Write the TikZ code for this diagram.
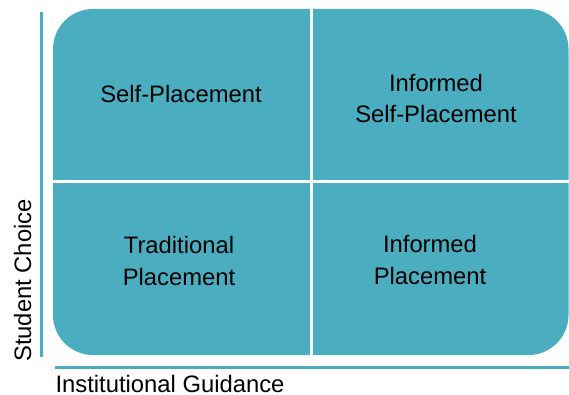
\documentclass[tikz,border=0pt]{standalone}
\usepackage{fontspec}
\setmainfont{Liberation Sans}
\usepackage{xcolor}
\usepackage{tikz}
\usetikzlibrary{calc,positioning}
\definecolor{teal}{HTML}{4BAEC0}
\definecolor{ink}{HTML}{000000}
\tikzset{
  panel/.style={fill=teal, rounded corners=40pt},
  split/.style={draw=white, line width=3pt},
  axis/.style={draw=teal, line width=2.7pt},
  lab/.style={text=ink, font=\fontsize{23.8}{31.5}\selectfont, align=center, anchor=base, inner sep=0pt},
}
\begin{document}
\begin{tikzpicture}[x=1pt,y=-1pt]
\useasboundingbox (0,0) rectangle (569,395);

% matrix panel
\fill[panel] (53,9) rectangle (568.5,355);
\draw[split] (311.5,9) -- (311.5,355);
\draw[split] (53,182) -- (568.5,182);

% quadrant labels (base = last line)
\node[lab] (selfpl) at (181,103) {Self-Placement};
\node[lab] (infself) at (436,123) {Informed\\Self-Placement};
\node[lab] (tradpl) at (179,285) {Traditional\\Placement};
\node[lab] (infpl) at (430,284) {Informed\\Placement};

% axes
\coordinate (ytop) at (41.5,12);
\coordinate (ybot) at (41.5,357);
\coordinate (xleft) at (55,367.5);
\coordinate (xright) at (569,367.5);
\draw[axis] (ybot) -- (ytop);
\draw[axis] (xleft) -- (xright);

\node[lab, rotate=90] (ychoice) at (31,280.5) {Student Choice};
\node[lab] (xguide) at (170,392) {Institutional Guidance};
\end{tikzpicture}
\end{document}
